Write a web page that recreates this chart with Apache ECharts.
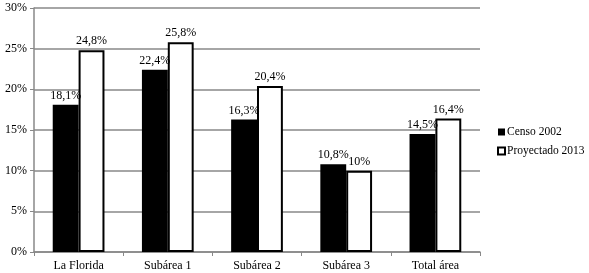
<!DOCTYPE html>
<html>
<head>
<meta charset="utf-8">
<script src="https://cdn.jsdelivr.net/npm/echarts@6/dist/echarts.min.js"></script>
<style>
  html, body { margin: 0; padding: 0; background: #fff; }
  #chart { width: 589px; height: 273px; }
</style>
</head>
<body>
<div id="chart"></div>
<script>
var categories = ['La Florida', 'Subárea 1', 'Subárea 2', 'Subárea 3', 'Total área']
var censo2002 = [18.1, 22.4, 16.3, 10.8, 14.5]
var proyectado2013 = [24.8, 25.8, 20.4, 10, 16.4]
var seriesNames = ['Censo 2002', 'Proyectado 2013']

var font = 'Liberation Serif'
var chart = echarts.init(document.getElementById('chart'))

function fmt(p) {
  return String(p.value).replace('.', ',') + '%'
}

var option = {
  animation: false,
  grid: { left: 34, right: 109, top: 8, bottom: 21, containLabel: false },
  legend: {
    orient: 'vertical',
    left: 492,
    top: 121,
    itemWidth: 7,
    itemHeight: 7,
    itemGap: 7,
    icon: 'rect',
    textStyle: { fontFamily: font, fontSize: 11.5, color: '#000', padding: [0, 0, 0, -3] },
    data: seriesNames
  },
  xAxis: {
    type: 'category',
    data: categories,
    axisLine: { lineStyle: { color: '#888', width: 1.5 } },
    axisTick: { show: true, length: 4, lineStyle: { color: '#888' } },
    axisLabel: { fontFamily: font, fontSize: 12, color: '#000', margin: 8 }
  },
  yAxis: {
    type: 'value',
    min: 0,
    max: 30,
    interval: 5,
    axisLine: { show: true, lineStyle: { color: '#888', width: 1.5 } },
    axisTick: { show: true, length: 4, lineStyle: { color: '#888' } },
    splitLine: { lineStyle: { color: '#a6a6a6', width: 2 } },
    axisLabel: { fontFamily: font, fontSize: 12, color: '#000', margin: 7, formatter: '{value}%' }
  },
  series: [
    {
      name: seriesNames[0],
      type: 'bar',
      data: censo2002,
      barGap: '0%',
      barCategoryGap: '42%',
      itemStyle: { color: '#000' },
      label: { show: true, position: 'top', distance: 3, fontFamily: font, fontSize: 12, color: '#000', formatter: fmt }
    },
    {
      name: seriesNames[1],
      type: 'bar',
      data: proyectado2013,
      itemStyle: { color: '#fff', borderColor: '#000', borderWidth: 2 },
      label: { show: true, position: 'top', distance: 3, fontFamily: font, fontSize: 12, color: '#000', formatter: fmt }
    }
  ]
}
chart.setOption(option)
window.addEventListener('resize', function() {
  chart.resize()
})
</script>
</body>
</html>
